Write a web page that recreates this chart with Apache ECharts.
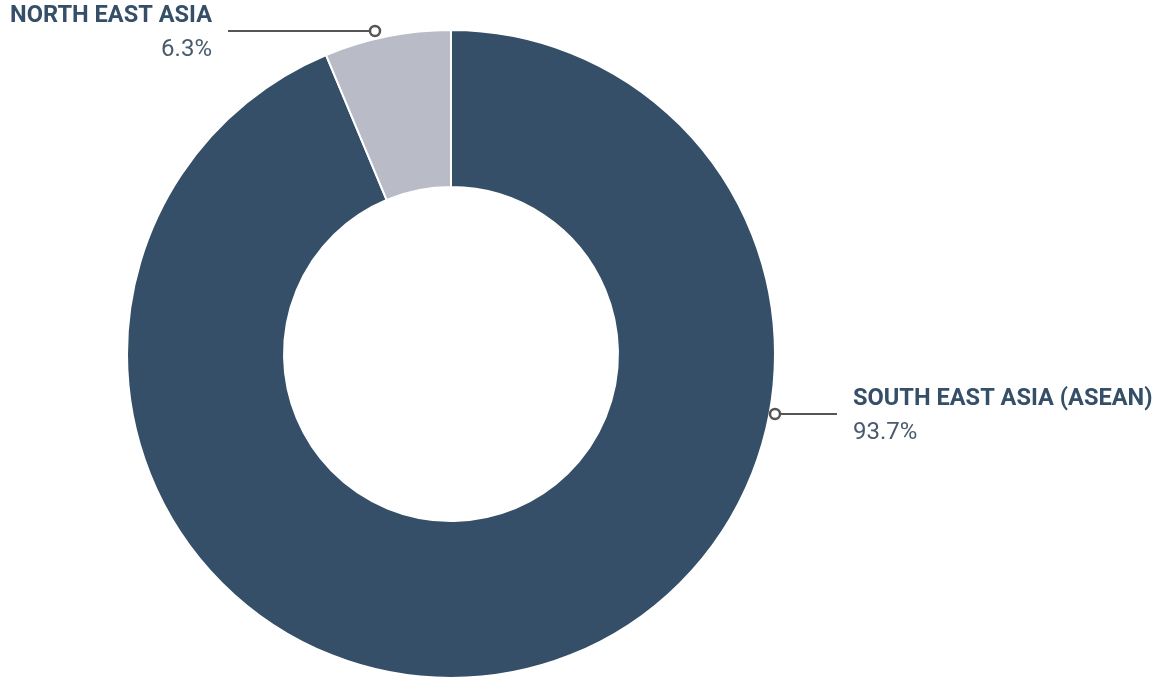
<!DOCTYPE html>
<html>
<head>
<meta charset="utf-8">
<script src="https://cdn.jsdelivr.net/npm/echarts@6/dist/echarts.min.js"></script>
<style>
html,body{margin:0;padding:0;background:#fff;}
#c{width:1170px;height:679px;}
</style>
</head>
<body>
<div id="c"></div>
<script>
var categories = ['SOUTH EAST ASIA (ASEAN)', 'NORTH EAST ASIA'];
var values = [93.7, 6.3];
var colors = ['#354f68', '#b9bbc7'];

var chart = echarts.init(document.getElementById('c'));
var CX = 451, CY = 354, R0 = 167, R1 = 324;
var FONT = 'Roboto, "DejaVu Sans", sans-serif';

// label placement per category
var labelPos = {
  'NORTH EAST ASIA': { x: 212, y: 33, align: 'right', line: [[370, 31], [300, 31], [228, 31]], dot: [375, 31] },
  'SOUTH EAST ASIA (ASEAN)': { x: 853, y: 416, align: 'left', line: [[780, 414], [810, 414], [837, 414]], dot: [775, 414] }
};

var data = categories.map(function (c, i) {
  return { name: c, value: values[i], itemStyle: { color: colors[i] } };
});

chart.setOption({
  animation: false,
  series: [{
    type: 'pie',
    center: [CX, CY],
    radius: [R0, R1],
    startAngle: 90,
    clockwise: true,
    data: data,
    itemStyle: { borderColor: '#fff', borderWidth: 2 },
    emphasis: { disabled: true },
    label: {
      show: true,
      position: 'outside',
      fontFamily: FONT,
      formatter: function (p) {
        return '{n|' + p.name + '}\n{v|' + p.value.toFixed(1) + '%}';
      },
      rich: {
        n: { fontFamily: FONT, fontWeight: 'bold', fontSize: 23.6, color: '#354f68', lineHeight: 34 },
        v: { fontFamily: FONT, fontSize: 24, color: '#4a5a6d', lineHeight: 34 }
      }
    },
    labelLine: { show: true, lineStyle: { color: '#555', width: 2 } },
    labelLayout: function (params) {
      var name = categories[params.dataIndex];
      var lp = labelPos[name];
      return {
        x: lp.x,
        y: lp.y,
        align: lp.align,
        verticalAlign: 'middle',
        labelLinePoints: lp.line
      };
    }
  }],
  graphic: categories.map(function (c) {
    var d = labelPos[c].dot;
    return {
      type: 'circle',
      shape: { cx: d[0], cy: d[1], r: 5 },
      style: { fill: '#fff', stroke: '#555', lineWidth: 2.5 },
      z: 100
    };
  })
});
</script>
</body>
</html>
